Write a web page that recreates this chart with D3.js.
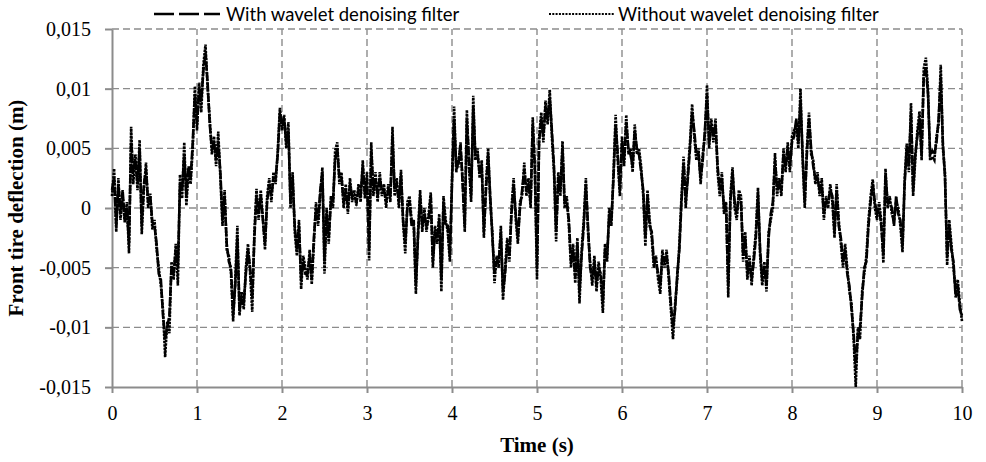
<!DOCTYPE html>
<html>
<head>
<meta charset="utf-8">
<script src="https://cdn.jsdelivr.net/npm/d3@7"></script>
<style>
  body { margin: 0; background: #fff; }
  svg { display: block; }
</style>
</head>
<body>
<svg id="chart" width="986" height="462"></svg>
<script>
// sample grid of the time axis (s)
const timeStart = 0;
const timeEnd = 10;
const timeStep = 0.025;

const xTicks = [0, 1, 2, 3, 4, 5, 6, 7, 8, 9, 10];
const yTicks = [-0.015, -0.01, -0.005, 0, 0.005, 0.01, 0.015];
const seriesNames = ['With wavelet denoising filter', 'Without wavelet denoising filter'];

// front tire deflection in mm (one value every 0.025 s)
const withFilterMm = [
  1.5, 2.5, -1.5, 2.0, -0.5, 1.5, -1.0, 0.0,
  -3.0, 5.5, 3.0, 4.0, 2.0, 5.0, -1.5, 2.0,
  3.2, 0.5, 1.0, -1.2, -1.5, -3.0, -5.5, -6.0,
  -9.0, -11.0, -10.0, -9.0, -5.0, -5.5, -3.5, -5.0,
  2.0, 1.5, 4.5, 1.0, 3.5, 2.5, 5.5, 9.5,
  7.0, 10.0, 9.0, 11.5, 13.0, 10.5, 7.0, 5.0,
  5.5, 4.0, 5.5, 3.0, -1.0, 1.0, -3.0, -4.5,
  -5.0, -9.0, -6.5, -2.5, -8.5, -7.5, -8.0, -5.5,
  -3.5, -5.0, -7.5, -2.5, 1.0, -0.5, 1.0, -1.0,
  -3.0, 0.5, 2.0, 1.0, 2.5, 2.5, 4.5, 8.0,
  7.0, 7.5, 5.5, 6.5, 0.5, 2.5, -1.5, -3.5,
  -1.5, -6.0, -4.5, -5.5, -5.5, -4.0, -6.0, -2.5,
  0.0, -1.0, 1.5, 3.0, -4.5, -0.5, -2.5, 0.5,
  0.5, 4.0, 5.0, 2.5, 2.5, 0.5, 1.5, 0.0,
  2.0, 1.0, 1.0, 0.5, 1.5, 1.0, 3.5, 1.2,
  2.5, -3.5, 4.8, 1.5, 2.5, 1.0, 2.5, 1.5,
  1.5, 0.5, 1.5, 1.0, 6.0, 1.5, 2.0, 0.5,
  2.8, -1.0, -3.0, 0.0, 0.5, -1.5, -1.0, -6.5,
  -2.5, 1.0, -1.5, -0.5, -1.5, -1.0, 1.0, -4.5,
  -2.0, -2.5, -1.0, -6.0, 0.5, -1.5, -1.5, -4.0,
  2.0, 7.5, 3.5, 3.5, 5.5, 2.0, -1.5, 7.5,
  4.0, 1.0, 8.5, 4.5, 4.5, 3.0, 3.5, -2.0,
  1.5, 4.5, 1.0, -2.5, -5.5, -4.5, -4.5, -2.0,
  -7.0, -5.5, -3.0, -4.0, -0.5, 2.0, -0.5, -2.5,
  0.0, 1.5, 3.2, 1.5, 2.0, 0.5, 7.0, 3.5,
  -5.0, 5.5, 7.5, 6.0, 8.5, 7.5, 9.2, 6.5,
  3.5, -2.0, 2.5, 1.5, 5.0, 0.5, 0.5, -1.0,
  -4.5, -3.5, -5.8, -3.0, -7.0, -4.0, -1.5, 2.0,
  -1.5, -5.0, -6.0, -4.5, -6.5, -5.0, -5.5, -8.0,
  -3.5, -4.0, -0.5, -1.0, 2.5, 7.0, 4.5, 1.5,
  5.5, 4.0, 7.2, 5.0, 4.5, 3.5, 6.5, 5.0,
  4.5, 3.0, 1.5, -2.5, 1.0, -1.5, -2.0, -4.5,
  -4.5, -5.5, -6.5, -4.0, -4.5, -4.0, -5.5, -8.0,
  -10.0, -8.5, -5.5, -3.5, 0.5, 3.8, 0.5, 2.5,
  5.0, 8.0, 6.5, 4.5, 4.5, 2.5, 4.0, 6.5,
  9.5, 5.5, 7.0, 6.0, 7.0, 3.5, 1.5, 2.5,
  0.0, 0.0, -6.5, 0.5, 3.0, 0.5, -0.5, 1.0,
  0.5, -4.0, -2.5, -5.5, -4.5, -6.0, -4.5, -2.5,
  1.2, -3.5, -6.0, -5.0, -6.5, -2.5, -0.5, 0.5,
  4.0, 1.5, 2.0, 1.5, 4.5, 3.5, 5.0, 3.5,
  5.5, 6.0, 7.5, 5.5, 9.0, 4.5, 0.5, 4.5,
  7.5, 5.0, 3.5, 2.5, 2.5, 1.5, 2.0, -0.5,
  0.5, 0.5, 1.5, 1.0, -2.0, 1.5, -1.5, -2.5,
  -4.5, -3.5, -5.5, -6.5, -8.5, -10.5, -13.5, -10.5,
  -10.0, -7.5, -5.0, -4.5, -1.5, 0.5, 2.0, 0.5,
  -0.5, 0.0, -1.5, -4.0, 2.8, 0.5, 0.5, 0.0,
  -1.5, 1.0, -0.5, -1.0, -3.2, 2.0, 5.0, 3.5,
  8.0, 1.5, 4.5, 6.0, 7.5, 4.5, 11.0, 11.8,
  9.5, 4.5, 4.8, 4.5, 5.5, 7.5, 11.0, 5.5,
  2.5, -4.0, -1.5, -3.5, -4.5, -7.5, -6.5, -8.5,
  -9.0
];

const withoutFilterMm = [
  1.0, 3.3, -2.0, 2.5, -1.0, 1.0, -1.2, 0.5,
  -3.8, 6.8, 2.0, 4.5, 1.5, 5.7, -2.2, 1.5,
  3.8, 0.0, 1.2, -1.8, -1.0, -3.5, -5.0, -6.5,
  -8.5, -12.5, -9.5, -10.5, -4.5, -6.0, -3.0, -6.5,
  2.8, 0.8, 5.5, 0.2, 3.0, 2.0, 5.0, 10.2,
  6.5, 10.5, 8.0, 12.0, 13.7, 10.0, 7.5, 4.5,
  6.0, 3.5, 6.4, 2.5, -1.5, 1.5, -3.5, -4.0,
  -5.5, -9.5, -6.0, -1.5, -9.0, -7.0, -8.5, -5.0,
  -3.0, -5.5, -8.7, -2.0, 1.6, -1.0, 1.5, -0.8,
  -3.5, 1.0, 2.5, 0.5, 3.0, 2.0, 4.8, 8.4,
  6.5, 7.8, 5.0, 7.2, 0.0, 3.0, -2.0, -4.0,
  -1.0, -6.8, -4.0, -5.0, -6.0, -3.5, -6.4, -3.0,
  0.5, -1.5, 1.0, 3.4, -5.5, 0.0, -3.0, 1.0,
  0.0, 4.8, 5.5, 2.0, 3.0, 0.0, 2.0, -0.5,
  2.5, 0.5, 1.5, 0.2, 2.0, 0.5, 4.0, 0.8,
  3.0, -4.4, 5.5, 1.0, 3.0, 0.5, 3.0, 1.0,
  2.0, 0.0, 2.0, 0.5, 6.8, 1.0, 2.5, 0.0,
  3.2, -1.3, -3.8, 0.5, 1.0, -1.0, -1.5, -7.2,
  -2.0, 1.5, -2.0, 0.0, -2.0, -0.5, 1.3, -5.0,
  -1.5, -3.0, -0.5, -7.0, 1.0, -1.0, -2.0, -4.5,
  2.5, 8.5, 3.0, 4.0, 5.0, 2.5, -2.0, 8.2,
  3.5, 0.5, 9.4, 4.0, 5.0, 2.5, 4.0, -2.5,
  2.0, 5.0, 0.5, -2.0, -6.3, -4.0, -5.0, -1.5,
  -7.7, -5.0, -2.5, -4.5, 0.0, 2.5, -1.0, -3.0,
  0.5, 1.0, 3.8, 1.0, 2.5, 0.0, 7.6, 3.0,
  -6.0, 6.0, 8.0, 5.5, 9.0, 7.0, 9.9, 6.0,
  3.0, -2.8, 3.0, 1.0, 5.6, 0.0, 1.0, -1.5,
  -5.0, -3.0, -6.3, -2.5, -8.0, -3.5, -1.0, 2.5,
  -2.0, -4.5, -6.5, -4.0, -7.0, -4.5, -6.0, -8.8,
  -3.0, -4.5, 0.0, -1.5, 3.0, 7.8, 4.0, 1.0,
  6.0, 3.5, 7.8, 4.5, 5.0, 3.0, 7.0, 4.5,
  5.0, 3.5, 1.0, -3.2, 1.5, -1.0, -2.5, -5.0,
  -4.0, -6.0, -7.2, -3.5, -5.0, -3.5, -6.0, -8.5,
  -11.0, -8.0, -6.0, -3.0, 1.0, 4.3, 0.0, 3.0,
  5.5, 8.7, 6.0, 4.0, 5.0, 2.0, 4.5, 6.0,
  10.3, 5.0, 7.5, 5.5, 7.5, 3.0, 1.0, 3.0,
  -0.5, 0.5, -7.5, 1.0, 3.4, 0.0, -1.0, 1.5,
  1.0, -4.5, -2.0, -6.0, -4.0, -6.5, -4.0, -2.0,
  1.7, -4.0, -6.5, -4.5, -7.0, -2.0, -1.0, 0.0,
  4.6, 1.0, 2.5, 1.0, 5.0, 3.0, 5.5, 3.0,
  6.0, 6.5, 7.0, 5.0, 10.0, 4.0, 0.0, 5.0,
  8.0, 4.5, 4.0, 2.0, 3.0, 1.0, 2.5, -1.0,
  1.0, 0.0, 2.0, 0.5, -2.5, 2.0, -1.0, -3.0,
  -5.0, -3.0, -5.0, -7.0, -8.0, -11.0, -15.0, -10.0,
  -11.0, -7.0, -5.5, -4.0, -1.0, 1.0, 2.4, 0.0,
  -1.0, 0.5, -1.0, -4.6, 3.3, 0.0, 1.0, -0.5,
  -1.0, 0.5, 0.0, -1.5, -3.7, 2.4, 5.4, 3.0,
  8.8, 1.0, 4.0, 6.5, 8.1, 4.0, 11.7, 12.6,
  10.0, 4.0, 4.3, 4.0, 6.0, 7.0, 12.0, 5.0,
  3.0, -4.8, -1.0, -3.0, -5.0, -7.0, -6.0, -8.0,
  -9.5
];

const times = d3.range(0, withoutFilterMm.length).map(i => timeStart + i * timeStep);

const svg = d3.select('#chart');
const gridColor = '#8c8c8c';
const serif = '"Liberation Serif", "Times New Roman", serif';

const x = d3.scaleLinear().domain([timeStart, timeEnd]).range([112, 962]);
const y = d3.scaleLinear().domain([-0.015, 0.015]).range([387, 29]);

const locale = d3.formatLocale({ decimal: ',', thousands: '.', grouping: [3], currency: ['', ''], minus: '-' });
const yFormat = locale.format('.3~f');

// dashed grid
const grid = svg.append('g');
grid.selectAll('line.h')
  .data(yTicks.filter(v => v > -0.015))
  .join('line')
    .attr('x1', x(timeStart)).attr('x2', x(timeEnd))
    .attr('y1', d => y(d)).attr('y2', d => y(d));
grid.selectAll('line.v')
  .data(xTicks.filter(v => v > 0))
  .join('line')
    .attr('x1', d => x(d)).attr('x2', d => x(d))
    .attr('y1', y(-0.015)).attr('y2', y(0.015));
grid.selectAll('line')
  .attr('stroke', gridColor)
  .attr('stroke-width', 1.4)
  .attr('stroke-dasharray', '7,4');

// axes
const yAxis = svg.append('g')
  .attr('transform', `translate(${x(timeStart)},0)`)
  .call(d3.axisLeft(y).tickValues(yTicks).tickFormat(yFormat).tickSize(7).tickSizeOuter(0).tickPadding(14));
const xAxis = svg.append('g')
  .attr('transform', `translate(0,${y(-0.015)})`)
  .call(d3.axisBottom(x).tickValues(xTicks).tickFormat(d => d).tickSize(6).tickSizeOuter(0).tickPadding(13));

[yAxis, xAxis].forEach(a => {
  a.attr('font-family', serif).attr('font-size', 20);
  a.select('.domain').attr('stroke', gridColor).attr('stroke-width', 2);
  a.selectAll('.tick line').attr('stroke', gridColor).attr('stroke-width', 2);
  a.selectAll('.tick text')
    .attr('fill', '#000')
    .style('font-family', serif)
    .style('font-size', '20px');
});

// series
const line = d3.line()
  .x((d, i) => x(times[i]))
  .y(d => y(d / 1000));

svg.append('path')
  .datum(withoutFilterMm)
  .attr('fill', 'none')
  .attr('stroke', '#000')
  .attr('stroke-width', 2.6)
  .attr('stroke-dasharray', '2.5,1')
  .attr('d', line);

svg.append('path')
  .datum(withFilterMm)
  .attr('fill', 'none')
  .attr('stroke', '#000')
  .attr('stroke-width', 2.6)
  .attr('stroke-dasharray', '9,1.5')
  .attr('d', line);

// axis titles
svg.append('text')
  .attr('x', x(5)).attr('y', 452)
  .attr('text-anchor', 'middle')
  .style('font-family', serif)
  .style('font-size', '21px')
  .style('font-weight', 'bold')
  .text('Time (s)');

svg.append('text')
  .attr('transform', `translate(23,${y(0)}) rotate(-90)`)
  .attr('text-anchor', 'middle')
  .style('font-family', serif)
  .style('font-size', '21px')
  .style('font-weight', 'bold')
  .text('Front tire deflection (m)');

// legend
const legend = [
  { name: seriesNames[0], x0: 154, x1: 220, tx: 226, dash: '20,5', w: 2.6 },
  { name: seriesNames[1], x0: 549, x1: 614, tx: 618, dash: '2,1.3', w: 2 }
];
const lg = svg.append('g').selectAll('g').data(legend).join('g');
lg.append('line')
  .attr('x1', d => d.x0).attr('x2', d => d.x1)
  .attr('y1', 14).attr('y2', 14)
  .attr('stroke', '#000')
  .attr('stroke-width', d => d.w)
  .attr('stroke-dasharray', d => d.dash);
lg.append('text')
  .attr('x', d => d.tx).attr('y', 21)
  .style('font-family', 'Lato, "Open Sans", sans-serif')
  .style('font-size', '18.5px')
  .text(d => d.name);
</script>
</body>
</html>
